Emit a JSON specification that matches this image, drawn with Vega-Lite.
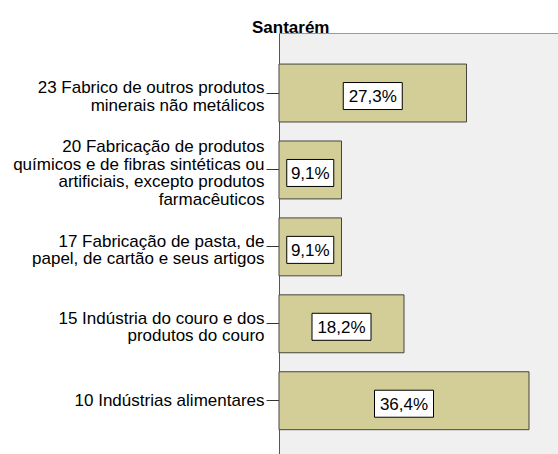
{
  "$schema": "https://vega.github.io/schema/vega-lite/v6.json",
  "width": 279,
  "height": 421,
  "autosize": {"type": "none"},
  "padding": {"left": 279, "top": 33, "right": 0, "bottom": 0},
  "background": "white",
  "config": {"view": {"stroke": null, "fill": "#F0F0F0"}, "font": "Liberation Sans"},
  "title": {"text": "Santarém", "anchor": "start", "frame": "group", "dx": -27, "dy": 19, "fontSize": 17, "font": "Liberation Sans", "fontWeight": "bold", "color": "black", "offset": 2, "baseline": "alphabetic"},
  "data": {"values": [
    {"sector": "23 Fabrico de outros produtos\nminerais não metálicos", "pct": 27.3, "label": "27,3%"},
    {"sector": "20 Fabricação de produtos\nquímicos e de fibras sintéticas ou\nartificiais, excepto produtos\nfarmacêuticos", "pct": 9.1, "label": "9,1%"},
    {"sector": "17 Fabricação de pasta, de\npapel, de cartão e seus artigos", "pct": 9.1, "label": "9,1%"},
    {"sector": "15 Indústria do couro e dos\nprodutos do couro", "pct": 18.2, "label": "18,2%"},
    {"sector": "10 Indústrias alimentares", "pct": 36.4, "label": "36,4%"}
  ]},
  "layer": [
    {
      "mark": {"type": "bar", "fill": "#D3CE97", "stroke": "#45453c", "strokeWidth": 1},
      "encoding": {
        "y": {"field": "sector", "type": "nominal", "sort": null,
          "scale": {"paddingInner": 0.247, "paddingOuter": 0.36, "align": 0.561},
          "axis": {"title": null, "labelExpr": "split(datum.value, '\\n')", "labelFontSize": 17, "labelLineHeight": 17.5, "labelColor": "black", "labelFont": "Liberation Sans", "labelLimit": 320, "labelPadding": 2, "tickSize": 13, "tickColor": "#333333", "domainColor": "#555555", "labelAlign": "right", "labelBaseline": "middle",
            "labelOffset": {"condition": [{"test": "length(split(datum.value, '\\n')) == 4", "value": -22.5}, {"test": "length(split(datum.value, '\\n')) == 2", "value": -5}], "value": 0}}},
        "x": {"field": "pct", "type": "quantitative", "scale": {"domain": [0, 40.62], "nice": false, "zero": true},
          "axis": {"orient": "top", "labels": false, "ticks": false, "grid": false, "title": null, "domainColor": "#9a9a9a"}}
      }
    },
    {
      "transform": [{"filter": "datum.pct >= 10"}],
      "mark": {"type": "point", "shape": "M-29.5,-13.5H29.5V13.5H-29.5Z", "size": 4, "filled": true, "fill": "white", "stroke": "black", "strokeWidth": 1, "opacity": 1, "yOffset": 3},
      "encoding": {
        "y": {"field": "sector", "type": "nominal", "sort": null},
        "x": {"field": "pct", "type": "quantitative", "scale": {"domain": [0, 81.24], "nice": false}, "axis": null}
      }
    },
    {
      "transform": [{"filter": "datum.pct < 10"}],
      "mark": {"type": "point", "shape": "M-23.5,-13.5H23.5V13.5H-23.5Z", "size": 4, "filled": true, "fill": "white", "stroke": "black", "strokeWidth": 1, "opacity": 1, "yOffset": 3},
      "encoding": {
        "y": {"field": "sector", "type": "nominal", "sort": null},
        "x": {"field": "pct", "type": "quantitative", "scale": {"domain": [0, 81.24], "nice": false}, "axis": null}
      }
    },
    {
      "mark": {"type": "text", "fontSize": 17, "color": "black", "font": "Liberation Sans", "baseline": "middle", "align": "center", "yOffset": 4},
      "encoding": {
        "y": {"field": "sector", "type": "nominal", "sort": null},
        "x": {"field": "pct", "type": "quantitative", "scale": {"domain": [0, 81.24], "nice": false}, "axis": null},
        "text": {"field": "label"}
      }
    }
  ],
  "resolve": {"scale": {"x": "independent"}}
}
